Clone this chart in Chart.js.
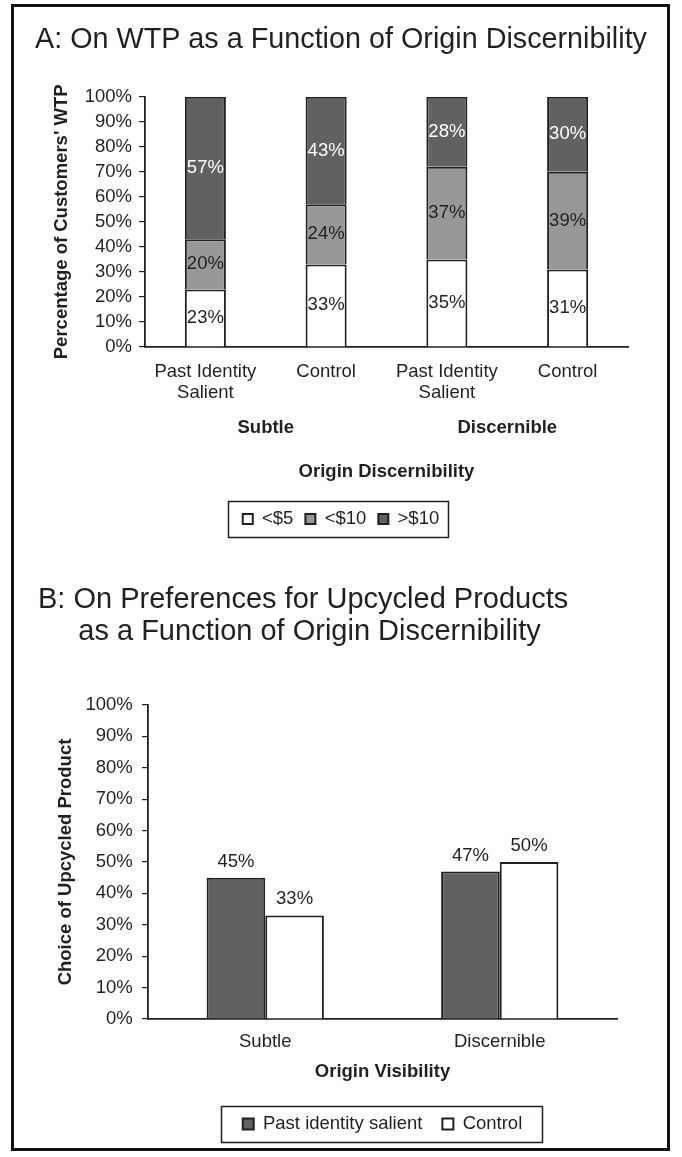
<!DOCTYPE html>
<html>
<head>
<meta charset="utf-8">
<title>WTP and upcycled product choice</title>
<script src="https://cdn.jsdelivr.net/npm/chart.js@4.4.1/dist/chart.umd.min.js"></script>
<style>
  body { margin: 0; background: #fff; overflow: hidden; }
  #frame { position: absolute; left: 11px; top: 4px; width: 653px; height: 1141px; border: 3px solid #111; }
  canvas { position: absolute; left: 0; display: block; }
  #chartA { top: 0; }
  #chartB { top: 545px; }
</style>
</head>
<body>
<div id="frame"></div>
<canvas id="chartA" width="682" height="545"></canvas>
<canvas id="chartB" width="682" height="612"></canvas>
<script>
'use strict';

// panel A: WTP shares per condition (stacked to 100%)
let wtpGroups = ['Subtle', 'Discernible'];
let wtpConditions = [['Past Identity', 'Salient'], 'Control', ['Past Identity', 'Salient'], 'Control'];
let wtpLegend = ['<$5', '<$10', '>$10'];
let wtpUnder5 = [23, 33, 35, 31];
let wtpUnder10 = [20, 24, 37, 39];
let wtpOver10 = [57, 43, 28, 30];

// panel B: choice of upcycled product
let upVisibility = ['Subtle', 'Discernible'];
let upLegend = ['Past identity salient', 'Control'];
let upSalient = [45, 47];
let upControl = [33, 50];

let percentTicks = [0, 10, 20, 30, 40, 50, 60, 70, 80, 90, 100];

const FONT = "'Liberation Sans', Arial, Helvetica, sans-serif";
const INK = '#231f20';
const DARK = '#616163';
const MID = '#98989b';
const WHITE = '#ffffff';

Chart.defaults.font.family = FONT;
Chart.defaults.color = INK;

// value labels on the bars
let barLabels = {
  id: 'barLabels',
  afterDatasetsDraw(chart, args, opts) {
    let ctx = chart.ctx;
    ctx.save();
    ctx.font = '18.5px ' + FONT;
    ctx.textAlign = 'center';
    ctx.textBaseline = 'middle';
    chart.data.datasets.forEach((ds, i) => {
      let meta = chart.getDatasetMeta(i);
      meta.data.forEach((bar, j) => {
        let p = bar.getProps(['x', 'y', 'base'], true);
        let y = opts.inside ? (p.y + p.base) / 2 : p.y - opts.gap;
        ctx.fillStyle = ds.labelColor || INK;
        ctx.fillText(ds.data[j] + '%', p.x, y);
      });
    });
    ctx.restore();
  }
};

// box around the legend
let legendFrame = {
  id: 'legendFrame',
  afterDraw(chart, args, opts) {
    let boxes = chart.legend && chart.legend.legendHitBoxes;
    if (!boxes || !boxes.length) return;
    let left = Math.min(...boxes.map(b => b.left)) - opts.padLeft;
    let right = Math.max(...boxes.map(b => b.left + b.width)) + opts.padRight;
    let mid = boxes[0].top + boxes[0].height / 2;
    let ctx = chart.ctx;
    ctx.save();
    ctx.strokeStyle = INK;
    ctx.lineWidth = 1.5;
    ctx.strokeRect(Math.round(left) + 0.5, Math.round(mid - 18) + 0.5, Math.round(right - left), 36);
    ctx.restore();
  }
};

function yAxis(title, width, titlePad, tickPad) {
  return {
    stacked: true,
    min: 0,
    max: 100,
    afterBuildTicks: s => { s.ticks = percentTicks.map(v => ({ value: v })); },
    afterFit: s => { s.width = width; },
    ticks: { autoSkip: false, padding: tickPad, font: { size: 18.5 }, color: INK, callback: v => v + '%' },
    grid: { display: true, drawOnChartArea: false, drawTicks: true, tickLength: 6, color: INK, lineWidth: 1.2 },
    border: { display: true, color: INK, width: 1.8 },
    title: { display: true, text: title, color: INK, font: { size: 18.5, weight: 'bold' }, padding: { top: titlePad, bottom: 0 } }
  };
}

new Chart(document.getElementById('chartA'), {
  type: 'bar',
  data: {
    labels: wtpConditions,
    datasets: [
      { label: wtpLegend[0], data: wtpUnder5, backgroundColor: WHITE, labelColor: INK },
      { label: wtpLegend[1], data: wtpUnder10, backgroundColor: MID, labelColor: INK },
      { label: wtpLegend[2], data: wtpOver10, backgroundColor: DARK, labelColor: WHITE }
    ].map(d => Object.assign(d, { borderColor: INK, borderWidth: 2, categoryPercentage: 1, barPercentage: 0.34 }))
  },
  options: {
    responsive: false,
    animation: false,
    layout: { padding: { left: 35, right: 35, top: 0, bottom: 6.75 } },
    scales: {
      x: {
        stacked: true,
        afterFit: s => { s.height = 60; },
        ticks: { padding: 14, autoSkip: false, maxRotation: 0, color: INK, font: { size: 18.5, lineHeight: 1.15 } },
        grid: { display: false, drawTicks: false },
        border: { display: true, color: INK, width: 1.8 }
      },
      x2: {
        type: 'category',
        position: 'bottom',
        labels: wtpGroups,
        offset: true,
        afterFit: s => { s.height = 90.75; },
        ticks: { padding: 10.2, color: INK, font: { size: 18.5, weight: 'bold' } },
        grid: { display: false, drawTicks: false },
        border: { display: false },
        title: { display: true, text: 'Origin Discernibility', color: INK, font: { size: 18.5, weight: 'bold' }, padding: { top: 0, bottom: 14.95 } }
      },
      y: yAxis("Percentage of Customers' WTP", 110, 15.9, 7),
      yR: {
        position: 'right',
        afterFit: s => { s.width = 19; },
        ticks: { display: false },
        grid: { display: false, drawTicks: false },
        border: { display: false }
      }
    },
    plugins: {
      title: {
        display: true,
        align: 'start',
        text: 'A: On WTP as a Function of Origin Discernibility',
        color: INK,
        font: { size: 29.5, weight: 'normal', lineHeight: 1.2 },
        padding: { top: 22.3, bottom: 39.0 }
      },
      legend: {
        position: 'bottom',
        labels: { boxWidth: 10, boxHeight: 10, padding: 12, color: INK, font: { size: 18.5 } }
      },
      tooltip: { enabled: false },
      barLabels: { inside: true },
      legendFrame: { padLeft: 15, padRight: 9 }
    }
  },
  plugins: [barLabels, legendFrame]
});

new Chart(document.getElementById('chartB'), {
  type: 'bar',
  data: {
    labels: upVisibility,
    datasets: [
      { label: upLegend[0], data: upSalient, backgroundColor: DARK },
      { label: upLegend[1], data: upControl, backgroundColor: WHITE }
    ].map(d => Object.assign(d, { borderColor: INK, borderWidth: 2, categoryPercentage: 0.5, barPercentage: 1 }))
  },
  options: {
    responsive: false,
    animation: false,
    layout: { padding: { left: 38, right: 65, top: 0, bottom: 13.75 } },
    scales: {
      x: {
        afterFit: s => { s.height = 75.75; },
        ticks: { padding: 12.1, color: INK, font: { size: 18.5, lineHeight: 1.15 } },
        grid: { display: false, drawTicks: false },
        border: { display: true, color: INK, width: 1.8 },
        title: { display: true, text: 'Origin Visibility', color: INK, font: { size: 18.5, weight: 'bold' }, padding: { top: 0, bottom: 11.95 } }
      },
      y: Object.assign(yAxis('Choice of Upcycled Product', 110, 16.9, 9.3), { stacked: false })
    },
    plugins: {
      title: {
        display: true,
        align: 'start',
        text: ['B: On Preferences for Upcycled Products', '     as a Function of Origin Discernibility'],
        color: INK,
        font: { size: 29, weight: 'normal', lineHeight: 1.1 },
        padding: { top: 39.05, bottom: 57.15 }
      },
      legend: {
        position: 'bottom',
        fullSize: false,
        labels: { boxWidth: 11, boxHeight: 11, padding: 20, color: INK, font: { size: 18.5 } }
      },
      tooltip: { enabled: false },
      barLabels: { inside: false, gap: 16 },
      legendFrame: { padLeft: 22, padRight: 19 }
    }
  },
  plugins: [barLabels, legendFrame]
});
</script>
</body>
</html>
